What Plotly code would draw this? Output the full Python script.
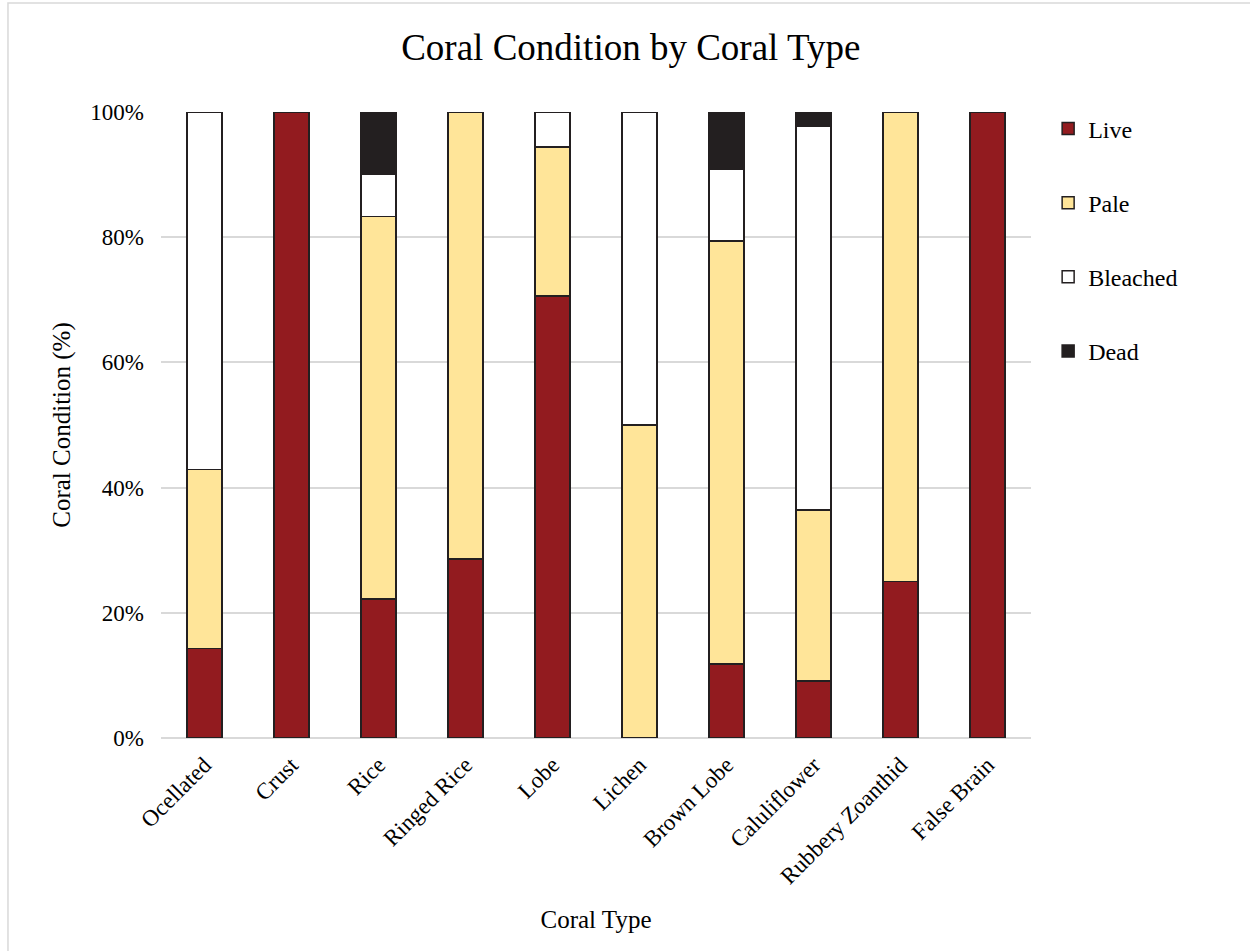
import plotly.graph_objects as go

# 珊瑚類型與各狀態比例 (%)
coral_types = ["Ocellated", "Crust", "Rice", "Ringed Rice", "Lobe", "Lichen",
               "Brown Lobe", "Caluliflower", "Rubbery Zoanthid", "False Brain"]
live = [14.3, 100, 22.2, 28.6, 70.6, None, 11.8, 9.1, 25.0, 100]
pale = [28.6, None, 61.1, 71.4, 23.8, 50.0, 67.6, 27.3, 75.0, None]
bleached = [57.1, None, 6.7, None, 5.6, 50.0, 11.5, 61.4, None, None]
dead = [None, None, 10.0, None, None, None, 9.1, 2.3, None, None]

y_ticks = [0, 20, 40, 60, 80, 100]
y_tick_text = ["0%", "20%", "40%", "60%", "80%", "100%"]

FONT = "Liberation Serif, Times New Roman, serif"
OUTLINE = "#231f20"

series = [
    ("Live", live, "#921b1f"),
    ("Pale", pale, "#ffe599"),
    ("Bleached", bleached, "#ffffff"),
    ("Dead", dead, "#231f20"),
]

fig = go.Figure()
for name, vals, col in series:
    fig.add_trace(go.Bar(
        x=coral_types, y=vals, name=name, legendgroup=name,
        marker=dict(color=col, line=dict(color=OUTLINE, width=1.5)),
    ))

# 外框 (左、上)
fig.add_shape(type="rect", xref="paper", yref="paper",
              x0=-0.1759, x1=1.6, y0=-0.6, y1=1.174,
              line=dict(color="#d9d9d9", width=1.5), layer="below")

fig.update_layout(
    barmode="stack",
    bargap=0.6,
    width=1250, height=951,
    margin=dict(l=161, r=219, t=112, b=213),
    paper_bgcolor="white", plot_bgcolor="white",
    font=dict(family=FONT, color="#000000"),
    title=dict(text="Coral Condition by Coral Type", font=dict(size=37, family=FONT),
               x=0.54, xref="paper", xanchor="center",
               y=1 - 47 / 951, yref="container", yanchor="middle"),
    legend=dict(x=1.0197, y=1.009, xanchor="left", yanchor="top",
                traceorder="grouped", tracegroupgap=40,
                font=dict(size=24, family=FONT)),
)

fig.update_xaxes(
    tickangle=-45, tickfont=dict(size=23), ticklabelstandoff=8,
    title=dict(text="Coral Type", font=dict(size=25), standoff=22),
    showgrid=False, showline=False, ticks="",
)
fig.update_yaxes(
    range=[0, 100], tickvals=y_ticks, ticktext=y_tick_text,
    tickfont=dict(size=23), ticklabelstandoff=16,
    title=dict(text="Coral Condition (%)", font=dict(size=25), standoff=12),
    showgrid=True, gridcolor="#d9d9d9", gridwidth=1.5,
    zeroline=True, zerolinecolor="#d9d9d9", zerolinewidth=1.5,
    showline=False, ticks="",
)

# 去掉頁面預設邊距，隱藏工具列
fig.write_html("out.html", config={"displayModeBar": False},
               post_script="document.body.style.margin='0';")
